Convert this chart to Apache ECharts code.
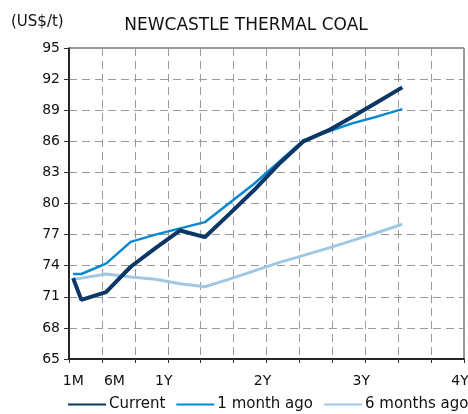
<!DOCTYPE html>
<html>
<head>
<meta charset="utf-8">
<script src="https://cdn.jsdelivr.net/npm/echarts@6/dist/echarts.min.js"></script>
<style>
html,body{margin:0;padding:0;background:#fff;}
#chart{width:468px;height:414px;}
</style>
</head>
<body>
<div id="chart"></div>
<script>
// Forward curve positions (months ahead)
var months = [0.5, 1.5, 4.5, 7.5, 10.5, 13.5, 16.5, 19.5, 22.5, 25.5, 28.5, 31.5, 34.5, 37.5, 40.5];
var current = [72.8, 70.7, 71.45, 73.9, 75.7, 77.4, 76.75, 79.0, 81.3, 83.8, 86.0, 87.05, 88.4, 89.8, 91.2];
var oneMonthAgo = [73.2, 73.2, 74.2, 76.3, 77.0, 77.6, 78.2, 80.05, 81.9, 84.0, 86.1, 86.95, 87.75, 88.4, 89.1];
var sixMonthsAgo = [72.7, 72.8, 73.2, 72.9, 72.7, 72.25, 71.97, 72.7, 73.5, 74.3, 75.0, 75.7, 76.44, 77.2, 78.0];
var seriesNames = ['Current', '1 month ago', '6 months ago'];
var xTickValues = [1, 6, 12, 24, 36, 48];
var xTickLabels = ['1M', '6M', '1Y', '2Y', '3Y', '4Y'];

function pairs(arr) { return arr.map(function (v, i) { return [months[i], v]; }); }

var font = 'DejaVu Sans';
var chart = echarts.init(document.getElementById('chart'), null, {renderer: 'canvas'});
chart.setOption({
  animation: false,
  backgroundColor: '#fff',
  title: [
    {text: 'NEWCASTLE THERMAL COAL', left: 241, top: 12, textAlign: 'center',
     textStyle: {fontFamily: font, fontSize: 17, fontWeight: 'normal', color: '#111'}},
    {text: '(US$/t)', left: 6, top: 10,
     textStyle: {fontFamily: font, fontSize: 15, fontWeight: 'normal', color: '#111'}}
  ],
  grid: {left: 69, right: 4, top: 48, bottom: 55, outerBoundsMode: 'none', containLabel: false,
         show: true, borderColor: '#333', borderWidth: 1, backgroundColor: 'transparent'},
  legend: {
    top: 397, left: 67, width: 460, itemWidth: 38, itemHeight: 10, itemGap: 10,
    orient: 'horizontal', padding: 0,
    itemStyle: {opacity: 0},
    textStyle: {fontFamily: font, fontSize: 15, color: '#111', padding: [0, 0, 0, -2]},
    data: seriesNames
  },
  xAxis: {
    type: 'value', min: 0, max: 48, interval: 4,
    axisLine: {show: true, onZero: false, lineStyle: {color: '#000', width: 1.5}},
    axisTick: {show: true, length: 4, lineStyle: {color: '#333'}},
    axisLabel: {
      fontFamily: font, fontSize: 14, color: '#111', margin: 15,
      customValues: xTickValues, padding: [0, 8, 0, 0],
      formatter: function (v) { var i = xTickValues.indexOf(v); return i >= 0 ? xTickLabels[i] : ''; }
    },
    splitLine: {show: true, lineStyle: {color: '#9a9a9a', type: [8, 5], width: 1}}
  },
  yAxis: {
    type: 'value', min: 65, max: 95, interval: 3,
    axisLine: {show: true, lineStyle: {color: '#000', width: 1.5}},
    axisTick: {show: true, length: 5, lineStyle: {color: '#333'}},
    axisLabel: {fontFamily: font, fontSize: 14, color: '#111', margin: 9},
    splitLine: {show: true, lineStyle: {color: '#9a9a9a', type: [8, 5], width: 1}}
  },
  series: [
    {name: seriesNames[2], type: 'line', data: pairs(sixMonthsAgo), symbol: 'none', z: 2,
     lineStyle: {color: '#a0c8e2', width: 3}, itemStyle: {color: '#a0c8e2'}},
    {name: seriesNames[1], type: 'line', data: pairs(oneMonthAgo), symbol: 'none', z: 3,
     lineStyle: {color: '#0a86d2', width: 2.5}, itemStyle: {color: '#0a86d2'}},
    {name: seriesNames[0], type: 'line', data: pairs(current), symbol: 'none', z: 4,
     lineStyle: {color: '#0b3766', width: 4}, itemStyle: {color: '#0b3766'}}
  ]
});
</script>
</body>
</html>
